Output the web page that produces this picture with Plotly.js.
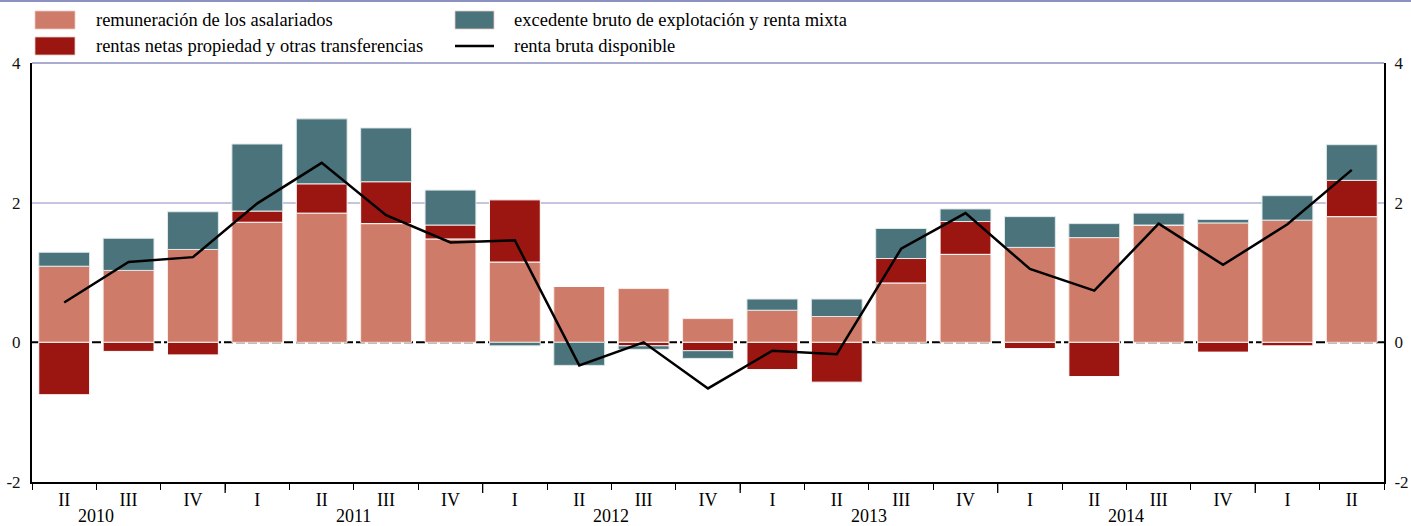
<!DOCTYPE html>
<html>
<head>
<meta charset="utf-8">
<script src="https://cdn.plot.ly/plotly-3.0.1.min.js"></script>
<style>
  html, body { margin: 0; padding: 0; background: #ffffff; }
  #chart { width: 1411px; height: 526px; }
</style>
</head>
<body>
<div id="chart"></div>
<script>
// ---- Data ----
const quarters = ['II','III','IV','I','II','III','IV','I','II','III','IV','I','II','III','IV','I','II','III','IV','I','II'];
const years = [2010,2010,2010,2011,2011,2011,2011,2012,2012,2012,2012,2013,2013,2013,2013,2014,2014,2014,2014,2015,2015];
const remuneracion = [1.09,1.03,1.33,1.72,1.85,1.70,1.48,1.15,0.80,0.77,0.34,0.46,0.37,0.85,1.26,1.36,1.50,1.68,1.71,1.75,1.80];
const rentasNetas  = [-0.75,-0.13,-0.18,0.16,0.42,0.60,0.20,0.89,0.00,-0.05,-0.12,-0.39,-0.57,0.35,0.47,-0.09,-0.49,0.00,-0.14,-0.05,0.52];
const excedente    = [0.20,0.46,0.54,0.96,0.93,0.77,0.50,-0.05,-0.33,-0.05,-0.11,0.16,0.25,0.43,0.18,0.44,0.20,0.17,0.05,0.35,0.51];
const rentaBruta   = [0.57,1.15,1.22,1.99,2.57,1.82,1.43,1.46,-0.33,0.00,-0.66,-0.12,-0.17,1.34,1.85,1.05,0.74,1.70,1.11,1.69,2.47];
const legendLabels = ['remuneración de los asalariados','excedente bruto de explotación y renta mixta','rentas netas propiedad y otras transferencias','renta bruta disponible'];
const yTicks = [-2, 0, 2, 4];

// ---- Styling ----
const W = 1411, H = 526;
const M = {l: 32, r: 27, t: 63, b: 44};
const C_REM = '#CF7B69', C_REN = '#9C1611', C_EXC = '#4A737B';
const FONT = '"Liberation Serif", "Times New Roman", Times, serif';
const px = v => (v - M.l) / (W - M.l - M.r);
const py = v => (H - M.b - v) / (H - M.t - M.b);

const romanNum = {I:1, II:2, III:3, IV:4};
const x = quarters.map((_, i) => i);
const xMin = -0.5, xMax = quarters.length - 0.5;

const traces = [
  {type: 'bar', x: x, name: legendLabels[0], y: remuneracion, showlegend: false, hoverinfo: 'y',
   marker: {color: C_REM, line: {color: '#fbe9e4', width: 1}}},
  {type: 'bar', x: x, name: legendLabels[2], y: rentasNetas, showlegend: false, hoverinfo: 'y',
   marker: {color: C_REN, line: {color: '#ffffff', width: 1}}},
  {type: 'bar', x: x, name: legendLabels[1], y: excedente, showlegend: false, hoverinfo: 'y',
   marker: {color: C_EXC, line: {color: '#dfe9ea', width: 1}}},
  {type: 'scatter', mode: 'lines', name: legendLabels[3], x: x, y: rentaBruta, yaxis: 'y2',
   line: {color: '#000000', width: 2.5}, showlegend: false}
];

// boundaries between quarters (short ticks) and before each quarter I (long ticks)
const boundaries = [];
for (let i = 0; i <= quarters.length; i++) boundaries.push(i - 0.5);
const shapes = [];
quarters.forEach((q, i) => {
  if (q === 'I' && i > 0) {
    shapes.push({type: 'line', xref: 'x', yref: 'paper', x0: i - 0.5, x1: i - 0.5, y0: 0, y1: -11 / (H - M.t - M.b), line: {color: '#000', width: 1.3}});
  }
});
// zero line (dashed), plot top border, page top rule
shapes.push({type: 'line', xref: 'paper', yref: 'y', x0: 0, x1: 1, y0: 0, y1: 0, layer: 'below', line: {color: '#000', width: 2, dash: '9px,3px'}});
shapes.push({type: 'line', xref: 'paper', yref: 'paper', x0: 0, x1: 1, y0: 1, y1: 1, line: {color: '#8C90C0', width: 1.5}});
shapes.push({type: 'line', xref: 'paper', yref: 'paper', x0: px(0), x1: px(W), y0: py(1), y1: py(1), line: {color: '#8C90C0', width: 2}});

// Legend (custom, like the reference)
const legendPos = [
  {sx0: 35, sx1: 75, ty: 20, tx: 94, color: C_REM},
  {sx0: 455, sx1: 494, ty: 20, tx: 512, color: C_EXC},
  {sx0: 35, sx1: 75, ty: 46, tx: 94, color: C_REN},
  {sx0: 455, sx1: 494, ty: 46, tx: 512, color: null}
];
const annotations = [];
legendPos.forEach((p, k) => {
  if (p.color) {
    shapes.push({type: 'rect', xref: 'paper', yref: 'paper', x0: px(p.sx0), x1: px(p.sx1), y0: py(p.ty + 9), y1: py(p.ty - 9),
      fillcolor: p.color, line: {color: '#e9c9c0', width: 0.8}});
  } else {
    shapes.push({type: 'line', xref: 'paper', yref: 'paper', x0: px(p.sx0), x1: px(p.sx1), y0: py(p.ty), y1: py(p.ty), line: {color: '#000', width: 2.5}});
  }
  annotations.push({xref: 'paper', yref: 'paper', x: px(p.tx), y: py(p.ty), xanchor: 'left', yanchor: 'middle',
    text: legendLabels[k], showarrow: false, font: {family: FONT, size: 18.5, color: '#000'}});
});

// Year labels centred on the four quarters of each year (shown if the year has at least 3 quarters)
const seen = {};
years.forEach((yr, i) => {
  if (!(yr in seen)) seen[yr] = {first: i, q: romanNum[quarters[i]], n: 0};
  seen[yr].n++;
});
Object.keys(seen).forEach(yr => {
  const s = seen[yr];
  if (s.n >= 3) {
    const center = s.first - (s.q - 1) + 1.5;
    annotations.push({xref: 'x', yref: 'paper', x: center, y: py(516), xanchor: 'center', yanchor: 'middle',
      text: String(yr), showarrow: false, font: {family: FONT, size: 18, color: '#000'}});
  }
});

const yCommon = {range: [-2, 4], tickmode: 'array', tickvals: yTicks, ticktext: yTicks.map(String),
  showgrid: false, zeroline: false, showline: true, linecolor: '#000', linewidth: 2,
  ticks: '', tickfont: {family: FONT, size: 17, color: '#111'}, fixedrange: true};

const layout = {
  width: W, height: H,
  margin: M,
  paper_bgcolor: '#ffffff', plot_bgcolor: '#ffffff',
  barmode: 'relative', bargap: 0.21,
  showlegend: false,
  font: {family: FONT, size: 18, color: '#000'},
  xaxis: {range: [xMin, xMax], tickmode: 'array', tickvals: x, ticktext: quarters, ticks: '',
    showline: true, linecolor: '#000', linewidth: 2, showgrid: false, zeroline: false,
    tickfont: {family: FONT, size: 18, color: '#000'},
    minor: {tickmode: 'array', tickvals: boundaries, ticks: 'outside', ticklen: 6, tickcolor: '#000', tickwidth: 1, showgrid: false},
    fixedrange: true},
  yaxis: Object.assign({}, yCommon, {side: 'left', ticklabelstandoff: 6,
    minor: {tickmode: 'array', tickvals: [2], showgrid: true, gridcolor: '#C4C6E0', gridwidth: 2, ticks: ''}}),
  yaxis2: Object.assign({}, yCommon, {side: 'right', overlaying: 'y', anchor: 'x', ticklabelstandoff: 5}),
  shapes: shapes,
  annotations: annotations
};

Plotly.newPlot('chart', traces, layout, {displayModeBar: false, staticPlot: true});
</script>
</body>
</html>
